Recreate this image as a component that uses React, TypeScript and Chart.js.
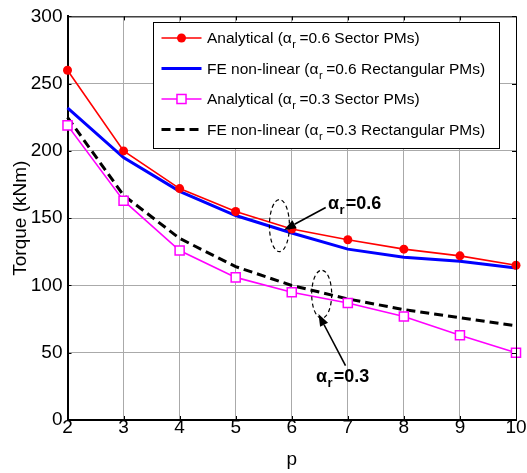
import React, { useEffect, useRef } from "react";
import { Chart, registerables } from "chart.js";

Chart.register(...registerables);

const FONT = "'Liberation Sans', Arial, Helvetica, sans-serif";

// ---- data ----
const pValues = [2, 3, 4, 5, 6, 7, 8, 9, 10];
const analytical06 = [260, 200, 172, 155, 142, 134, 127, 122, 115];
const feNonLinear06 = [232, 195, 170, 152, 139, 127, 121, 118, 113];
const analytical03 = [219, 163, 126, 106, 95, 87, 77, 63, 50];
const feNonLinear03 = [225, 167, 135, 114, 100, 90, 82, 76, 70];

const xTickValues = [2, 3, 4, 5, 6, 7, 8, 9, 10];
const yTickValues = [0, 50, 100, 150, 200, 250, 300];

const xAxisTitle = "p";
const yAxisTitle = "Torque (kNm)";

// legend label pieces: main text, subscript, rest
const legendParts: [string, string, string][] = [
  ["Analytical (α", "r", "=0.6 Sector PMs)"],
  ["FE non-linear (α", "r", "=0.6 Rectangular PMs)"],
  ["Analytical (α", "r", "=0.3 Sector PMs)"],
  ["FE non-linear (α", "r", "=0.3 Rectangular PMs)"],
];

// annotation labels
const annotationTexts: [string, string, string][] = [
  ["α", "r", "=0.6"],
  ["α", "r", "=0.3"],
];

// annotation anchors in data coordinates (p, torque)
const annotationDefs = [
  {
    text: annotationTexts[0],
    textAt: [6.647, 156.6],
    ellipse: [5.78, 144.5],
    arrowFrom: [6.606, 158],
    arrowTo: [5.862, 141.2],
    rx: 10,
    ry: 26,
  },
  {
    text: annotationTexts[1],
    textAt: [6.433, 27.9],
    ellipse: [6.534, 93.5],
    arrowFrom: [6.959, 40.4],
    arrowTo: [6.477, 78.7],
    rx: 10,
    ry: 24,
  },
];

const toPoints = (ys: number[]) => pValues.map((p, i) => ({ x: p, y: ys[i] }));

const decorPlugin = {
  id: "decor",
  afterDatasetsDraw(chart: any) {
    const ctx: CanvasRenderingContext2D = chart.ctx;
    const { left, right, top, bottom } = chart.chartArea;
    const xs = chart.scales.x;
    const ys = chart.scales.y;
    const px = (v: number) => xs.getPixelForValue(v);
    const py = (v: number) => ys.getPixelForValue(v);
    ctx.save();

    // top and right frame
    ctx.strokeStyle = "#000";
    ctx.lineWidth = 1;
    ctx.setLineDash([]);
    ctx.beginPath();
    ctx.moveTo(left, top + 0.5);
    ctx.lineTo(right + 0.5, top + 0.5);
    ctx.lineTo(right + 0.5, bottom);
    ctx.stroke();

    // inward tick marks on all sides
    const tl = 4;
    ctx.beginPath();
    xTickValues.forEach((v) => {
      const x = Math.round(px(v)) + 0.5;
      ctx.moveTo(x, bottom);
      ctx.lineTo(x, bottom - tl);
      ctx.moveTo(x, top);
      ctx.lineTo(x, top + tl);
    });
    yTickValues.forEach((v) => {
      const y = Math.round(py(v)) + 0.5;
      ctx.moveTo(left, y);
      ctx.lineTo(left + tl, y);
      ctx.moveTo(right, y);
      ctx.lineTo(right - tl, y);
    });
    ctx.stroke();

    // annotations
    annotationDefs.forEach((a) => {
      // dashed ellipse
      ctx.strokeStyle = "#000";
      ctx.lineWidth = 1.2;
      ctx.setLineDash([4, 3]);
      ctx.beginPath();
      ctx.ellipse(px(a.ellipse[0]), py(a.ellipse[1]), a.rx, a.ry, 0, 0, Math.PI * 2);
      ctx.stroke();
      ctx.setLineDash([]);

      // arrow
      const x1 = px(a.arrowFrom[0]);
      const y1 = py(a.arrowFrom[1]);
      const x2 = px(a.arrowTo[0]);
      const y2 = py(a.arrowTo[1]);
      const ang = Math.atan2(y2 - y1, x2 - x1);
      const hl = 12;
      const hw = 4.5;
      const bx = x2 - hl * Math.cos(ang);
      const by = y2 - hl * Math.sin(ang);
      ctx.lineWidth = 1.6;
      ctx.beginPath();
      ctx.moveTo(x1, y1);
      ctx.lineTo(bx, by);
      ctx.stroke();
      ctx.fillStyle = "#000";
      ctx.beginPath();
      ctx.moveTo(x2, y2);
      ctx.lineTo(bx + hw * Math.sin(ang), by - hw * Math.cos(ang));
      ctx.lineTo(bx - hw * Math.sin(ang), by + hw * Math.cos(ang));
      ctx.closePath();
      ctx.fill();

      // text with subscript
      let tx = px(a.textAt[0]);
      const ty = py(a.textAt[1]);
      ctx.textBaseline = "alphabetic";
      ctx.textAlign = "left";
      ctx.font = `bold 18px ${FONT}`;
      ctx.fillText(a.text[0], tx, ty);
      tx += ctx.measureText(a.text[0]).width + 0.5;
      ctx.font = `bold 13px ${FONT}`;
      ctx.fillText(a.text[1], tx, ty + 5);
      tx += ctx.measureText(a.text[1]).width + 1;
      ctx.font = `bold 18px ${FONT}`;
      ctx.fillText(a.text[2], tx, ty);
    });

    // legend
    const bx0 = 153;
    const by0 = 22;
    const bx1 = 499;
    const by1 = 148;
    ctx.fillStyle = "#fff";
    ctx.fillRect(bx0, by0, bx1 - bx0, by1 - by0);
    ctx.strokeStyle = "#000";
    ctx.lineWidth = 1;
    ctx.strokeRect(bx0 + 0.5, by0 + 0.5, bx1 - bx0, by1 - by0);

    const rowYs = [38, 68.5, 99, 129.5];
    chart.data.datasets.forEach((ds: any, i: number) => {
      const ry = rowYs[i];
      const lx0 = 161.5;
      const lx1 = 201.5;
      ctx.strokeStyle = ds.borderColor;
      ctx.lineWidth = ds.borderWidth;
      ctx.setLineDash(ds.borderDash || []);
      ctx.beginPath();
      ctx.moveTo(lx0, ry);
      ctx.lineTo(lx1, ry);
      ctx.stroke();
      ctx.setLineDash([]);
      const cx = (lx0 + lx1) / 2;
      if (ds.pointRadius > 0) {
        if (ds.pointStyle === "circle") {
          ctx.fillStyle = ds.pointBackgroundColor;
          ctx.beginPath();
          ctx.arc(cx, ry, ds.pointRadius, 0, Math.PI * 2);
          ctx.fill();
        } else if (ds.pointStyle === "rect") {
          const s = ds.pointRadius * Math.SQRT1_2;
          ctx.fillStyle = ds.pointBackgroundColor;
          ctx.fillRect(cx - s, ry - s, 2 * s, 2 * s);
          ctx.strokeStyle = ds.pointBorderColor;
          ctx.lineWidth = ds.pointBorderWidth;
          ctx.strokeRect(cx - s, ry - s, 2 * s, 2 * s);
        }
      }
      const parts = legendParts[i];
      let tx = 207;
      const base = ry + 5;
      ctx.fillStyle = "#000";
      ctx.textBaseline = "alphabetic";
      ctx.textAlign = "left";
      ctx.font = `15.5px ${FONT}`;
      ctx.fillText(parts[0], tx, base);
      tx += ctx.measureText(parts[0]).width + 0.5;
      ctx.font = `11px ${FONT}`;
      ctx.fillText(parts[1], tx, base + 5);
      tx += ctx.measureText(parts[1]).width + 3.5;
      ctx.font = `15.5px ${FONT}`;
      ctx.fillText(parts[2], tx, base);
    });

    ctx.restore();
  },
};

export default function App() {
  const canvasRef = useRef<HTMLCanvasElement | null>(null);

  useEffect(() => {
    const canvas = canvasRef.current;
    if (!canvas) return;
    const chart = new Chart(canvas, {
      type: "line",
      data: {
        datasets: [
          {
            label: legendParts[0].join(""),
            data: toPoints(analytical06),
            borderColor: "#ff0000",
            borderWidth: 1.6,
            pointStyle: "circle",
            pointRadius: 4.5,
            pointHoverRadius: 4.5,
            pointBackgroundColor: "#ff0000",
            pointBorderColor: "#ff0000",
            pointBorderWidth: 0,
            tension: 0,
            clip: false,
          },
          {
            label: legendParts[1].join(""),
            data: toPoints(feNonLinear06),
            borderColor: "#0000ff",
            borderWidth: 3,
            pointRadius: 0,
            tension: 0,
            clip: false,
          },
          {
            label: legendParts[2].join(""),
            data: toPoints(analytical03),
            borderColor: "#ff00ff",
            borderWidth: 1.6,
            pointStyle: "rect",
            pointRadius: 6.4,
            pointHoverRadius: 6.4,
            pointBackgroundColor: "#ffffff",
            pointBorderColor: "#ff00ff",
            pointBorderWidth: 1.5,
            tension: 0,
            clip: false,
          },
          {
            label: legendParts[3].join(""),
            data: toPoints(feNonLinear03),
            borderColor: "#000000",
            borderWidth: 3,
            borderDash: [9, 5],
            pointRadius: 0,
            tension: 0,
            clip: false,
          },
        ] as any,
      },
      options: {
        responsive: false,
        animation: false,
        devicePixelRatio: 1,
        layout: { padding: { top: 12, right: 11, left: 0, bottom: 0 } },
        plugins: {
          legend: { display: false },
          tooltip: { enabled: false },
        },
        scales: {
          x: {
            type: "linear",
            min: 2,
            max: 10,
            afterFit: (s: any) => {
              s.height = 53;
            },
            afterBuildTicks: (s: any) => {
              s.ticks = xTickValues.map((v) => ({ value: v }));
            },
            ticks: {
              stepSize: 1,
              color: "#000",
              padding: -2,
              maxRotation: 0,
              font: { family: FONT, size: 19, lineHeight: 1 },
            },
            grid: { color: "#aaaaaa", lineWidth: 1, drawTicks: false },
            border: { display: true, color: "#000", width: 2 },
            title: {
              display: true,
              text: xAxisTitle,
              color: "#000",
              font: { family: FONT, size: 19 },
              padding: { top: 0, bottom: 2 },
            },
          },
          y: {
            type: "linear",
            min: 0,
            max: 300,
            afterFit: (s: any) => {
              s.width = 67.5;
            },
            afterBuildTicks: (s: any) => {
              s.ticks = yTickValues.map((v) => ({ value: v }));
            },
            ticks: {
              stepSize: 50,
              color: "#000",
              padding: 5,
              font: { family: FONT, size: 19 },
            },
            grid: { color: "#aaaaaa", lineWidth: 1, drawTicks: false },
            border: { display: true, color: "#000", width: 2 },
            title: {
              display: true,
              text: yAxisTitle,
              color: "#000",
              font: { family: FONT, size: 19 },
              padding: { top: 9, bottom: 0 },
            },
          },
        },
      },
      plugins: [decorPlugin],
    });
    return () => chart.destroy();
  }, []);

  return (
    <div style={{ position: "fixed", left: 0, top: 0, width: 527, height: 473, background: "#fff" }}>
      <canvas ref={canvasRef} width={527} height={473} style={{ display: "block" }} />
    </div>
  );
}
